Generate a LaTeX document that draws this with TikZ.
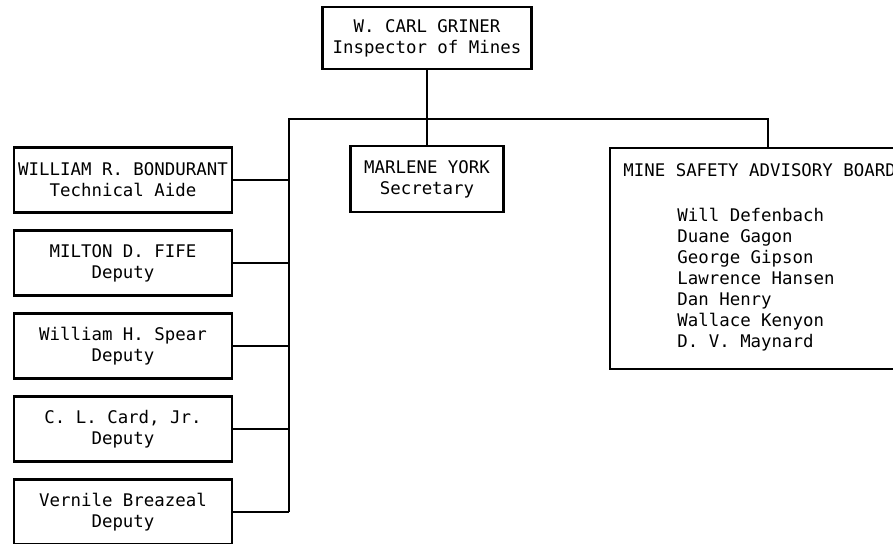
\documentclass[tikz,border=0pt]{standalone}
\usepackage{fontspec}
\setmonofont{DejaVu Sans Mono}
\usepackage{tikz}
\usetikzlibrary{positioning}
\tikzset{%
  chart_block/.style={%
    rectangle,%
    draw=black,%
    line width=1.1pt,%
    inner sep=0pt,%
    font={\ttfamily\fontsize{8.7}{10.5}\selectfont},%
    align=center%
  },
  staff_block/.style={%
    chart_block,%
    minimum width=109pt,%
    minimum height=32.5pt%
  },
  board_text/.style={%
    inner sep=0pt,%
    font={\ttfamily\fontsize{8.7}{10.5}\selectfont},%
    align=left%
  },
  chart_path/.style={%
    draw=black,%
    line width=1.2pt,%
    line join=miter%
  },
}
\begin{document}
\begin{tikzpicture}[x=0.5pt, y=0.5pt]
    \useasboundingbox (0,0) rectangle (893,-544);

    \node [chart_block, minimum width=104.5pt, minimum height=31pt] (Griner)
      at (427,-38) {W. CARL GRINER\\Inspector of Mines};
    \node [chart_block, minimum width=76.5pt, minimum height=33pt,
      below = 37.5pt of Griner] (Secretary) {MARLENE YORK\\Secretary};

    \node [staff_block] (Bondurant) at (123,-180)
      {WILLIAM R. BONDURANT\\Technical Aide};
    \node [staff_block, below = 7.9pt of Bondurant] (Fife)
      {MILTON D. FIFE\\Deputy};
    \node [staff_block, below = 7.9pt of Fife] (Spear)
      {William H. Spear\\Deputy};
    \node [staff_block, below = 7.9pt of Spear] (Card)
      {C. L. Card, Jr.\\Deputy};
    \node [staff_block, below = 7.9pt of Card] (Breazeal)
      {Vernile Breazeal\\Deputy};

    \node [chart_block, anchor=north west, minimum width=150pt,
      minimum height=110.5pt] (Board) at (609,-147) {};
    \node [board_text, below right = 8pt and 7pt of Board.north west] (Members)
      {MINE SAFETY ADVISORY BOARD\\[12pt]
       \hspace*{27pt}Will Defenbach\\
       \hspace*{27pt}Duane Gagon\\
       \hspace*{27pt}George Gipson\\
       \hspace*{27pt}Lawrence Hansen\\
       \hspace*{27pt}Dan Henry\\
       \hspace*{27pt}Wallace Kenyon\\
       \hspace*{27pt}D. V. Maynard};

    \coordinate (bus_left) at (289,-119);
    \coordinate (bus_right) at (768,-119);

    \draw [chart_path]
      (Griner.south)
      --
      (Secretary.north);
    \draw [chart_path]
      (Breazeal.east -| bus_left)
      --
      (bus_left)
      --
      (bus_right)
      --
      (bus_right |- Board.north);
    \draw [chart_path]
      (Bondurant.east)
      --
      (Bondurant.east -| bus_left);
    \draw [chart_path]
      (Fife.east)
      --
      (Fife.east -| bus_left);
    \draw [chart_path]
      (Spear.east)
      --
      (Spear.east -| bus_left);
    \draw [chart_path]
      (Card.east)
      --
      (Card.east -| bus_left);
    \draw [chart_path]
      (Breazeal.east)
      --
      (Breazeal.east -| bus_left);
  \end{tikzpicture}
\end{document}
